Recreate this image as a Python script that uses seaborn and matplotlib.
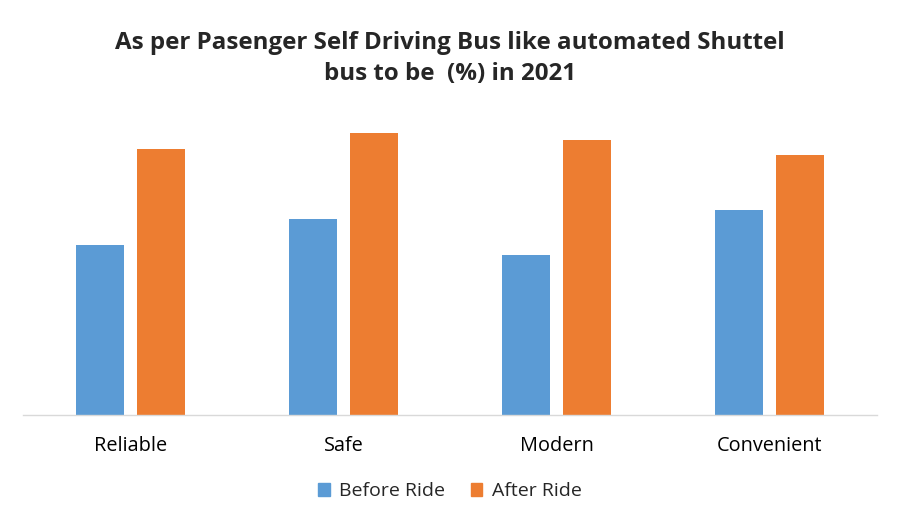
import matplotlib
matplotlib.use("Agg")
import matplotlib.pyplot as plt
import seaborn as sns
import pandas as pd

categories = ["Reliable", "Safe", "Modern", "Convenient"]
before_ride = [55.7, 64.3, 52.5, 67.2]
after_ride = [87.2, 92.5, 90.2, 85.2]
series = ["Before Ride", "After Ride"]
colors = ["#5B9BD5", "#ED7D31"]

df = pd.DataFrame({
    "Category": categories * 2,
    "Value": before_ride + after_ride,
    "Series": [series[0]] * 4 + [series[1]] * 4,
})

sns.set_style("white")
plt.rcParams["font.family"] = ["Open Sans", "DejaVu Sans"]

fig = plt.figure(figsize=(9, 5.25), dpi=100)
ax = fig.add_axes([0.0261, 0.2095, 0.9478, 0.581])
sns.barplot(data=df, x="Category", y="Value", hue="Series", order=categories,
            hue_order=series, palette=colors, width=0.572, gap=0.21,
            ax=ax, errorbar=None, saturation=1, linewidth=0)
ax.set_xlim(-0.5, 3.5)
ax.set_ylim(0, 100)
ax.set_xlabel("")
ax.set_ylabel("")
ax.set_yticks([])
for s in ["top", "left", "right"]:
    ax.spines[s].set_visible(False)
ax.spines["bottom"].set_color("#D9D9D9")
ax.spines["bottom"].set_linewidth(1)
ax.tick_params(axis="x", length=0, labelsize=14.3, colors="#000000", pad=15)
ax.legend_.remove()
handles = [plt.Rectangle((0, 0), 1, 1, color=c) for c in colors]
fig.legend(handles, series, loc="center", bbox_to_anchor=(0.5, 0.064), ncol=2,
           frameon=False, fontsize=14, handlelength=0.6, handleheight=0.6,
           columnspacing=1.3, handletextpad=0.5)
fig.text(0.5, 0.889, "As per Pasenger Self Driving Bus like automated Shuttel\nbus to be  (%) in 2021",
         ha="center", va="center", fontsize=17.4, fontweight="bold", linespacing=1.4)
fig.savefig("out.png", dpi=100)
